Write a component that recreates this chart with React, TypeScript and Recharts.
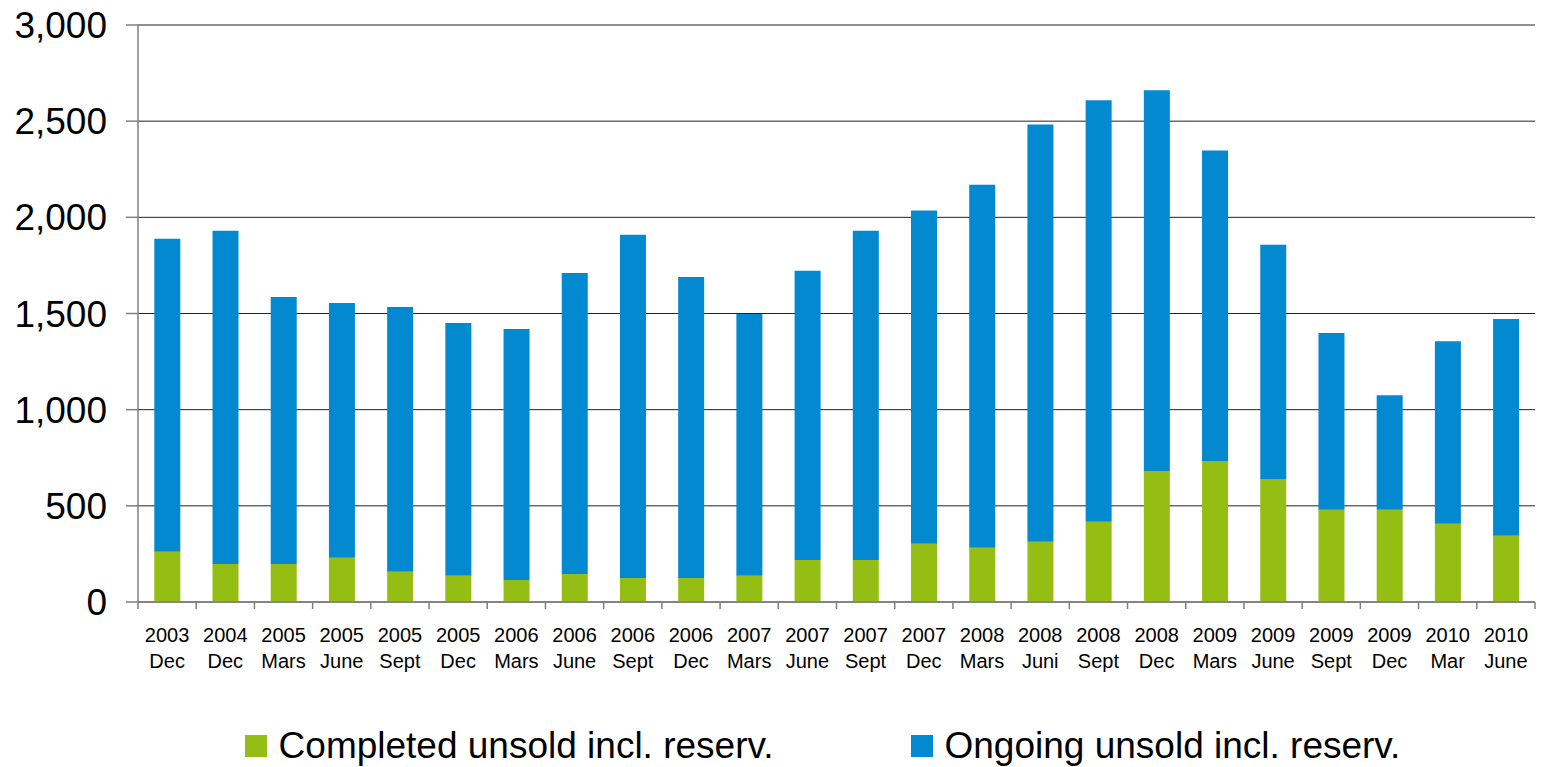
import React from "react";
import { Bar, BarChart, CartesianGrid, Legend, XAxis, YAxis } from "recharts";

const YEARS = ["2003", "2004", "2005", "2005", "2005", "2005", "2006", "2006", "2006", "2006", "2007", "2007", "2007", "2007", "2008", "2008", "2008", "2008", "2009", "2009", "2009", "2009", "2010", "2010"];
const PERIODS = ["Dec", "Dec", "Mars", "June", "Sept", "Dec", "Mars", "June", "Sept", "Dec", "Mars", "June", "Sept", "Dec", "Mars", "Juni", "Sept", "Dec", "Mars", "June", "Sept", "Dec", "Mar", "June"];
const COMPLETED = [261, 198, 198, 230, 157, 136, 115, 146, 125, 125, 136, 219, 219, 303, 282, 313, 417, 678, 730, 637, 480, 480, 407, 344];
const TOTAL = [1889, 1930, 1586, 1555, 1534, 1450, 1419, 1711, 1910, 1690, 1497, 1722, 1930, 2035, 2170, 2483, 2609, 2661, 2348, 1857, 1398, 1075, 1356, 1471];
const Y_TICKS = [0, 500, 1000, 1500, 2000, 2500, 3000];

const GREEN = "#95BE14";
const BLUE = "#0389D0";
const FONT = "Arial, 'Liberation Sans', sans-serif";

const W = 1543;
const H = 767;
const MARGIN = { top: 25, right: 8, left: 0, bottom: 0 };
const Y_W = 138;
const STEP = (W - Y_W - MARGIN.left - MARGIN.right) / YEARS.length;

const data = YEARS.map((y, i) => ({
  key: `${y}-${i}`,
  year: y,
  period: PERIODS[i],
  completed: COMPLETED[i],
  ongoing: TOTAL[i] - COMPLETED[i],
}));

function XTick(props: any) {
  const { x, y, payload, index } = props;
  const i = payload.index ?? index;
  const d = data[i];
  const last = i === data.length - 1;
  return (
    <g>
      <line x1={x - STEP / 2} x2={x - STEP / 2} y1={y - 8} y2={y - 1} stroke="#808080" strokeWidth={1.5} />
      {last && <line x1={x + STEP / 2} x2={x + STEP / 2} y1={y - 8} y2={y - 1} stroke="#808080" strokeWidth={1.5} />}
      <text x={x} y={y + 32} textAnchor="middle" fontSize={20} fill="#000" fontFamily={FONT}>
        {d?.year}
      </text>
      <text x={x} y={y + 58} textAnchor="middle" fontSize={20} fill="#000" fontFamily={FONT}>
        {d?.period}
      </text>
    </g>
  );
}

function LegendContent() {
  const items = [
    { label: "Completed unsold incl. reserv.", color: GREEN },
    { label: "Ongoing unsold incl. reserv.", color: BLUE },
  ];
  return (
    <div style={{ display: "flex", justifyContent: "center", gap: 137, fontFamily: FONT, fontSize: 37, color: "#000", position: "relative", left: 55 }}>
      {items.map((it) => (
        <div key={it.label} style={{ display: "flex", alignItems: "center" }}>
          <span style={{ display: "inline-block", width: 22, height: 22, background: it.color, marginRight: 12 }} />
          <span>{it.label}</span>
        </div>
      ))}
    </div>
  );
}

export default function App() {
  return (
    <div style={{ position: "absolute", left: 0, top: 0, background: "#fff" }}>
      <BarChart width={W} height={H} data={data} margin={MARGIN} barCategoryGap="28%">
        <CartesianGrid vertical={false} stroke="#222" strokeWidth={1} />
        <XAxis
          dataKey="key"
          interval={0}
          tick={<XTick />}
          tickLine={false}
          axisLine={{ stroke: "#808080", strokeWidth: 1.5 }}
          height={123}
        />
        <YAxis
          domain={[0, 3000]}
          ticks={Y_TICKS}
          interval={0}
          width={Y_W}
          tickSize={12}
          tickMargin={19}
          tickLine={{ stroke: "#808080", strokeWidth: 1.5 }}
          axisLine={{ stroke: "#808080", strokeWidth: 1.5 }}
          tick={{ fontSize: 37, fill: "#000", fontFamily: FONT }}
          tickFormatter={(v: number) => v.toLocaleString("en-US")}
        />
        <Legend verticalAlign="bottom" content={<LegendContent />} wrapperStyle={{ bottom: 0 }} />
        <Bar dataKey="completed" stackId="a" fill={GREEN} isAnimationActive={false} />
        <Bar dataKey="ongoing" stackId="a" fill={BLUE} isAnimationActive={false} />
      </BarChart>
    </div>
  );
}
